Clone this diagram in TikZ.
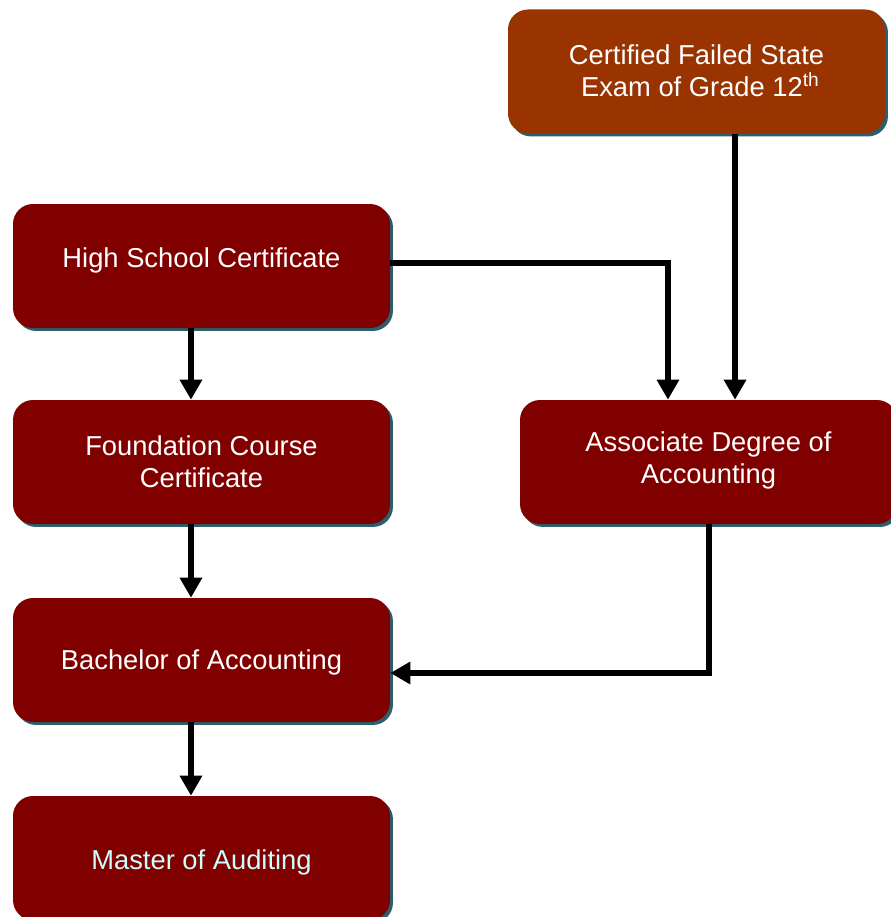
\documentclass[tikz,border=0pt]{standalone}
\usepackage{fontspec}
\setmainfont{Liberation Sans}
\usetikzlibrary{arrows.meta,shadows}
\definecolor{boxred}{HTML}{800000}
\definecolor{boxorange}{HTML}{993300}
\definecolor{shadecol}{HTML}{2A5F6E}
\definecolor{lightcyan}{HTML}{CCFFFF}
\begin{document}
\begin{tikzpicture}[x=0.75pt,y=-0.75pt,
  box/.style={draw=none,fill=boxred,rounded corners=15pt,
    minimum width=282.75pt,minimum height=93pt,inner sep=0pt,
    drop shadow={shadow xshift=2.2pt,shadow yshift=-2.2pt,fill=shadecol,opacity=1}},
  lbl/.style={text=white,font=\fontsize{20.5}{24}\selectfont,align=center,inner sep=0pt},
  arr/.style={line width=4.5pt,-{Triangle[width=16pt,length=15pt]}}]
\useasboundingbox (0,0) rectangle (890,917);
\node[box] (hs) at (201.5,266) {};
\node[box] (fc) at (201.5,462) {};
\node[box] (ba) at (201.5,660) {};
\node[box] (ma) at (201.5,858) {};
\node[box,fill=boxorange] (cf) at (696.5,71.5) {};
\node[box] (as) at (708.5,462) {};
\node[lbl] (hst) at (201.5,260) {High School Certificate};
\node[lbl] (fct) at (201.5,461.5) {Foundation Course\\Certificate};
\node[lbl] (bat) at (201.5,662) {Bachelor of Accounting};
\node[lbl,text=lightcyan] (mat) at (201.5,862) {Master of Auditing};
\node[lbl] (cft) at (696.5,70.5) {Certified Failed State\\\ Exam of Grade 12\textsuperscript{th}};
\node[lbl] (ast) at (708.5,460) {Associate Degree of\\Accounting};
\draw[arr] ([xshift=-7.9pt]hs.south) -- ([xshift=-7.9pt]fc.north);
\draw[arr] ([xshift=-7.9pt]fc.south) -- ([xshift=-7.9pt]ba.north);
\draw[arr] ([xshift=-7.9pt]ba.south) -- ([xshift=-7.9pt]ma.north);
\draw[arr] ([yshift=2.25pt]hs.east) -| ([xshift=-30.4pt]as.north);
\draw[arr] ([xshift=28.9pt]cf.south) -- ([xshift=28.9pt]cf.south |- as.north);
\draw[arr] (as.south) |- ([yshift=-9.75pt]ba.east);
\end{tikzpicture}
\end{document}
